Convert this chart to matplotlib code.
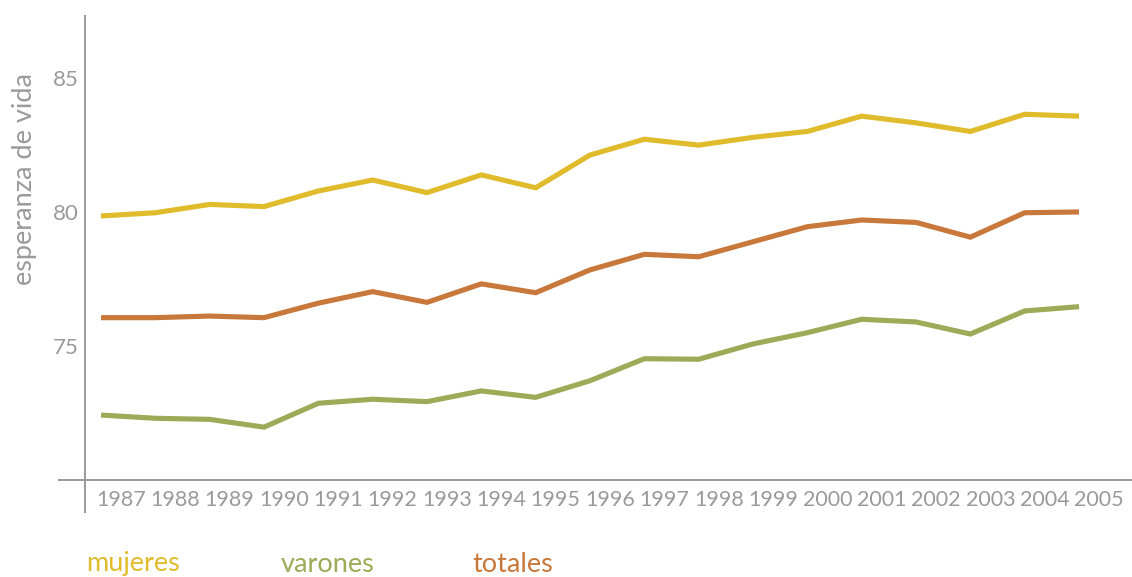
import matplotlib
matplotlib.use("Agg")
import matplotlib.pyplot as plt
from matplotlib.transforms import ScaledTranslation

years = list(range(1987, 2006))
mujeres = [79.84, 79.96, 80.27, 80.19, 80.77, 81.18, 80.71, 81.37, 80.89, 82.11,
           82.70, 82.48, 82.77, 82.99, 83.56, 83.31, 82.99, 83.63, 83.56]
totales = [76.05, 76.05, 76.11, 76.05, 76.59, 77.02, 76.62, 77.31, 76.98, 77.83,
           78.41, 78.32, 78.88, 79.44, 79.69, 79.60, 79.05, 79.96, 79.99]
varones = [72.42, 72.30, 72.26, 71.97, 72.86, 73.01, 72.92, 73.32, 73.08, 73.70,
           74.52, 74.50, 75.07, 75.49, 75.99, 75.89, 75.44, 76.30, 76.46]
yticks = [75, 80, 85]
series_names = ["mujeres", "varones", "totales"]

c_muj = "#E0BB2C"
c_var = "#9DAA57"
c_tot = "#C8783A"
grey = "#9a9a9a"

plt.rcParams['font.family'] = ['Lato', 'DejaVu Sans']

W, H = 1132, 577
fig = plt.figure(figsize=(W / 100, H / 100), dpi=100)
# axes spans pixels x 58..1132, y 15..513
ax = fig.add_axes([58 / W, 1 - 513 / H, (1132 - 58) / W, (513 - 15) / H])
ax.set_xlim(1986.209, 2005.975)
ax.set_ylim(68.77, 87.33)
for s in ax.spines.values():
    s.set_visible(False)

ax.axhline(70, color=grey, lw=1.4, zorder=1)
ax.axvline(1986.705, color=grey, lw=1.4, zorder=1)

lw = 3.7
ax.plot(years, mujeres, color=c_muj, lw=lw, solid_capstyle='butt', solid_joinstyle='miter', zorder=3)
ax.plot(years, totales, color=c_tot, lw=lw, solid_capstyle='butt', solid_joinstyle='miter', zorder=3)
ax.plot(years, varones, color=c_var, lw=lw, solid_capstyle='butt', solid_joinstyle='miter', zorder=3)

ax.set_xticks(years)
ax.set_xticklabels([str(y) for y in years], fontsize=15.5, color=grey)
ax.tick_params(axis='x', length=0, pad=0)
off = ScaledTranslation(20 / 100, 23 / 100, fig.dpi_scale_trans)
for lab in ax.get_xticklabels():
    lab.set_transform(lab.get_transform() + off)

ax.set_yticks(yticks)
ax.set_yticklabels([str(v) for v in yticks], fontsize=16, color=grey)
ax.tick_params(axis='y', length=0, pad=-15)
for lab in ax.get_yticklabels():
    lab.set_horizontalalignment('right')

fig.text(25 / W, 1 - 179 / H, "esperanza de vida", rotation=90, ha='center', va='center',
         fontsize=19.5, color=grey)

leg_x = [86, 281, 472]
leg_c = [c_muj, c_var, c_tot]
for name, x, c in zip(series_names, leg_x, leg_c):
    fig.text(x / W, 1 - 564 / H, name, ha='left', va='center', fontsize=19.5, color=c)

fig.savefig("out.png", dpi=100)
